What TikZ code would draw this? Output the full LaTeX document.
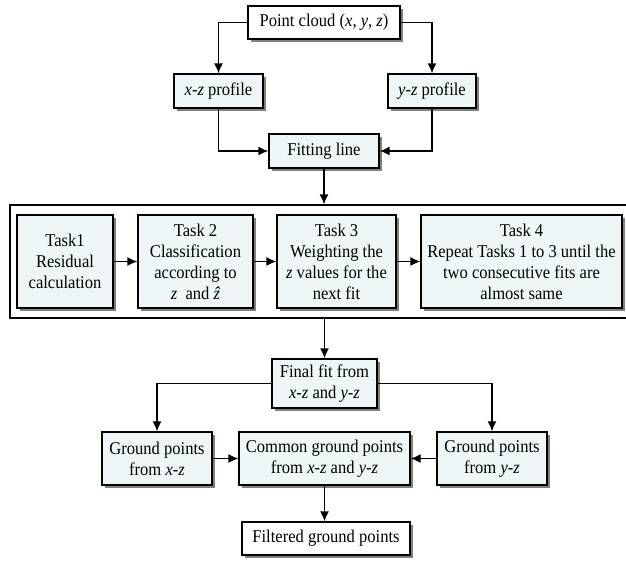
\documentclass[tikz,border=0pt]{standalone}
\usepackage{fontspec}
\setmainfont[FakeStretch=0.92]{Liberation Serif}
\usepackage{xcolor}
\usetikzlibrary{shadows,arrows.meta}
\definecolor{boxfill}{HTML}{EEF6F8}

\begin{document}
\begin{tikzpicture}[x=1pt,y=-1pt,
  box/.style={draw, line width=1.4pt, fill=boxfill, align=center, inner sep=1pt, font=\fontsize{18}{21}\selectfont, drop shadow={shadow xshift=3pt, shadow yshift=-3pt, fill=gray, opacity=1}},
  wbox/.style={box, fill=white},
  arr/.style={-{Latex[length=10pt,width=9pt]}, line width=1.4pt}]
\useasboundingbox (0,0) rectangle (626,560);

\node[wbox, minimum width=152pt, minimum height=33pt] (cloud) at (324,22.5) {Point cloud (\textit{x}, \textit{y}, \textit{z})};
\node[box, minimum width=89pt, minimum height=34pt] (xz) at (218.5,91) {\textit{x}-\textit{z} profile};
\node[box, minimum width=88pt, minimum height=34pt] (yz) at (432,91) {\textit{y}-\textit{z} profile};
\node[box, minimum width=110pt, minimum height=34pt] (fit) at (324,151) {Fitting line};

\draw [arr] (cloud.west) -| (xz);
\draw [arr] (cloud.east) -| (yz);
\draw [arr] (xz) |- (fit);
\draw [arr] (yz) |- (fit);

\node[draw, line width=1.4pt, minimum width=626pt, minimum height=113pt] (loop) at (323,261.5) {};
\draw [arr] (fit) -- (fit |- loop.north);

\node[box, minimum width=96pt, minimum height=93pt] (t1) at (65,261.5) {Task1\\Residual\\calculation};
\node[box, minimum width=115pt, minimum height=93pt] (t2) at (195.5,261.5) {Task 2\\Classification\\according to\\\textit{z}\ \ and \textit{\^{z}}};
\node[box, minimum width=119pt, minimum height=93pt] (t3) at (336.5,261.5) {Task 3\\Weighting the\\\textit{z} values for the\\next fit};
\node[box, minimum width=201pt, minimum height=93pt] (t4) at (521.5,261.5) {Task 4\\Repeat Tasks 1 to 3 until the\\two consecutive fits are\\almost same};

\draw [arr] (t1) -- (t2);
\draw [arr] (t2) -- (t3);
\draw [arr] (t3) -- (t4);

\node[box, minimum width=105pt, minimum height=49pt] (final) at (324.5,383.5) {Final fit from\\\textit{x}-\textit{z} and \textit{y}-\textit{z}};
\draw [arr] (loop.south -| final) -- (final);

\node[box, minimum width=110pt, minimum height=53pt] (gxz) at (157,458.5) {Ground points\\from \textit{x}-\textit{z}};
\node[box, minimum width=171pt, minimum height=53pt] (common) at (324.5,458.5) {Common ground points\\from \textit{x}-\textit{z} and \textit{y}-\textit{z}};
\node[box, minimum width=110pt, minimum height=53pt] (gyz) at (492,458.5) {Ground points\\from \textit{y}-\textit{z}};
\node[wbox, minimum width=168pt, minimum height=33pt] (filt) at (326,538.5) {Filtered ground points};

\draw [arr] (final) -| (gxz);
\draw [arr] (final) -| (gyz);
\draw [arr] (gxz) -- (common);
\draw [arr] (gyz) -- (common);
\draw [arr] (common.south) -- (common.south |- filt.north);
\end{tikzpicture}
\end{document}
